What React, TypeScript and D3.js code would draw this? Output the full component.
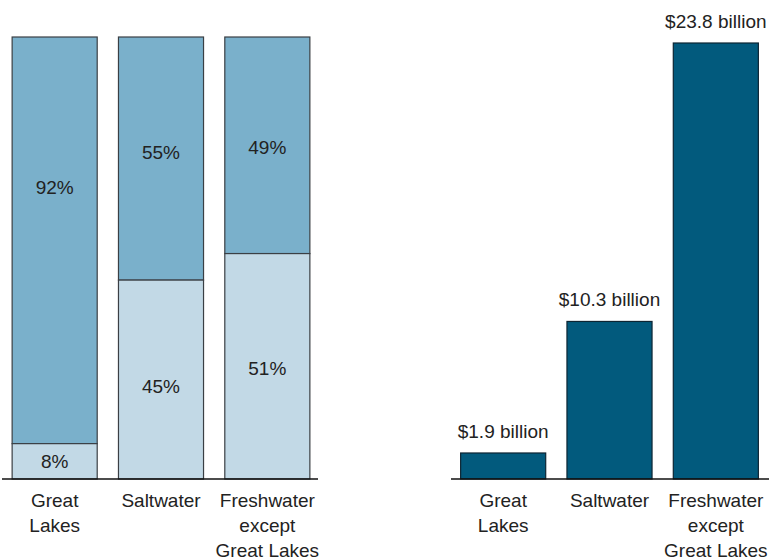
import React from "react";
import * as d3 from "d3";

const categories = [["Great", "Lakes"], ["Saltwater"], ["Freshwater", "except", "Great Lakes"]];
const lowerShare = [8, 45, 51];
const upperShare = [92, 55, 49];
const upperLabelAt = [66, 74, 75];
const lowerLabelAt = [4, 21, 25];
const valueLabels = ["$1.9 billion", "$10.3 billion", "$23.8 billion"];
const barValues = [1.42, 8.6, 23.8];

const W = 777;
const H = 558;
const FONT = "'Liberation Sans', Arial, Helvetica, sans-serif";
const TEXT = "#222";
const STROKE = "#3a3f44";

export default function App() {
  const base = 479;
  const top = 37;
  const idx = categories.map((_, i) => String(i));

  const xL = d3.scaleBand().domain(idx).range([1.5, 320.5]).paddingInner(0.2).paddingOuter(0.1);
  const yL = d3.scaleLinear().domain([0, 100]).range([base, top]);

  const xR = d3.scaleBand().domain(idx).range([450, 769]).paddingInner(0.2).paddingOuter(0.1);
  const yR = d3.scaleLinear().domain([0, 23.8]).range([base, 43]);

  const catLabel = (x: d3.ScaleBand<string>, i: number) =>
    categories[i].map((line, j) => (
      <text key={j} x={(x(String(i)) as number) + x.bandwidth() / 2} y={507 + j * 25}
        textAnchor="middle" fontSize={19} fill={TEXT} fontFamily={FONT}>{line}</text>
    ));

  return (
    <svg width={W} height={H} style={{ position: "absolute", left: 0, top: 0, background: "#fff" }}>
      {/* Left stacked chart */}
      {idx.map((k, i) => {
        const x0 = xL(k) as number;
        const bw = xL.bandwidth();
        return (
          <g key={"L" + k}>
            <rect x={x0} y={yL(100)} width={bw} height={yL(lowerShare[i]) - yL(100)}
              fill="#7ab0cb" stroke={STROKE} strokeWidth={1.2} />
            <rect x={x0} y={yL(lowerShare[i])} width={bw} height={base - yL(lowerShare[i])}
              fill="#c2d9e6" stroke={STROKE} strokeWidth={1.2} />
            <text x={x0 + bw / 2} y={yL(upperLabelAt[i])} dy="0.35em" textAnchor="middle"
              fontSize={19} fill={TEXT} fontFamily={FONT}>{upperShare[i]}%</text>
            <text x={x0 + bw / 2} y={yL(lowerLabelAt[i])} dy="0.35em" textAnchor="middle"
              fontSize={19} fill={TEXT} fontFamily={FONT}>{lowerShare[i]}%</text>
            {catLabel(xL, i)}
          </g>
        );
      })}
      <line x1={2} x2={318} y1={base} y2={base} stroke="#111" strokeWidth={1.5} />

      {/* Right bar chart */}
      {idx.map((k, i) => {
        const x0 = xR(k) as number;
        const bw = xR.bandwidth();
        return (
          <g key={"R" + k}>
            <rect x={x0} y={yR(barValues[i])} width={bw} height={base - yR(barValues[i])}
              fill="#025a7d" stroke="#0d2533" strokeWidth={1.2} />
            <text x={x0 + bw / 2} y={yR(barValues[i]) - 15} textAnchor="middle"
              fontSize={19} fill={TEXT} fontFamily={FONT}>{valueLabels[i]}</text>
            {catLabel(xR, i)}
          </g>
        );
      })}
      <line x1={451} x2={769} y1={base} y2={base} stroke="#111" strokeWidth={1.5} />
    </svg>
  );
}
